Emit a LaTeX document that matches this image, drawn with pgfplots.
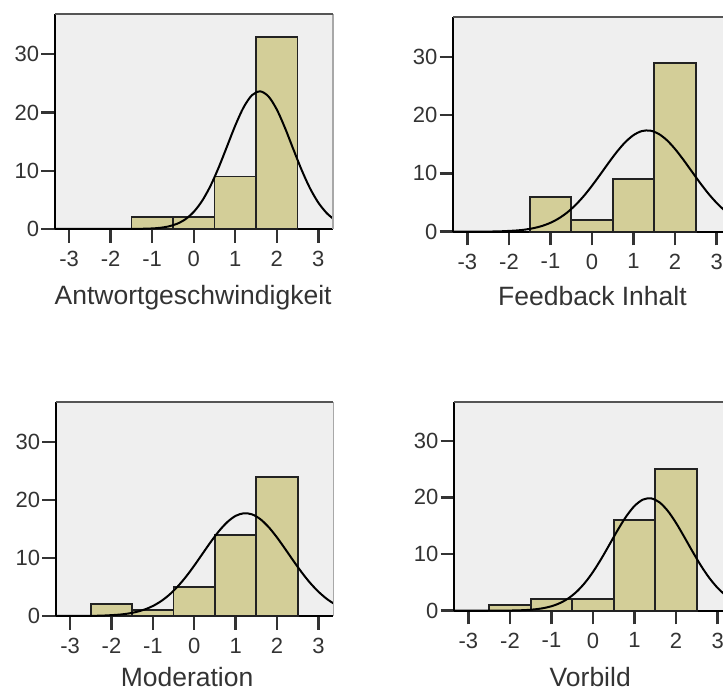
\documentclass[border=0pt]{standalone}
\usepackage{fontspec}
\setmainfont{Liberation Sans}
\usepackage{pgfplots}
\pgfplotsset{compat=1.18}
\definecolor{barcol}{HTML}{D3CE98}
\definecolor{bgcol}{HTML}{EFEFEF}
\definecolor{barline}{HTML}{222222}
\definecolor{txtcol}{HTML}{333333}
\definecolor{tickcol}{HTML}{333333}
\definecolor{topcol}{HTML}{555555}
\definecolor{rightcol}{HTML}{A8A8A8}
\pgfplotsset{
  spss/.style={
    scale only axis, width=139.15pt, height=107.5pt,
    xmin=-3.34, xmax=3.36, ymin=0, ymax=36.9,
    xtick={-3,...,3}, ytick={0,10,20,30},
    axis x line*=bottom, axis y line*=left,
    axis line style={black, line width=1pt},
    tick align=outside, major tick length=6.8pt,
    every tick/.style={draw=tickcol, line width=1.2pt},
    axis background/.style={fill=bgcol},
    ticklabel style={font=\fontsize{11}{13}\selectfont, text=txtcol},
    yticklabel style={inner sep=1pt},
    xticklabel style={inner sep=1pt, yshift=-3pt},
    /pgf/number format/assume math mode=true,
    xlabel style={font=\fontsize{13.25}{15}\selectfont, text=txtcol,
      at={(rel axis cs:0.5,0)}, anchor=base},
    anchor=south west,
    clip=false,
  },
  bars/.style={ybar, bar width=1, bar shift=0pt, fill=barcol, draw=barline, line width=0.9pt},
  curve/.style={black, line width=1pt, smooth, tension=0.5, mark=none},
}
\newcommand{\borders}{%
  \draw[rightcol, line width=0.8pt] (rel axis cs:1,0) -- (rel axis cs:1,1);
  \draw[topcol, line width=1.1pt] (rel axis cs:0,1) -- (rel axis cs:1,1);
}
\begin{document}
\begin{tikzpicture}
\useasboundingbox (0,0) rectangle (361.5pt,345pt);
\clip (0,0) rectangle (361.5pt,345pt);

% Panel 1
\begin{axis}[spss, at={(27.5pt,230.5pt)},
  xlabel={Antwortgeschwindigkeit}, xlabel style={xshift=-0.5pt, yshift=-38pt}]
\addplot[bars] coordinates {(-1,2) (0,2) (1,9) (2,33)};
\addplot[curve] coordinates {
(-3.34,0) (-2,0.001) (-1.4,0.015) (-1.0,0.093) (-0.8,0.211) (-0.6,0.449) (-0.4,0.898)
(-0.2,1.677) (0,2.934) (0.2,4.80) (0.4,7.35) (0.6,10.54) (0.8,14.14) (1.0,17.76)
(1.2,20.87) (1.4,22.95) (1.6,23.62) (1.8,22.75) (2.0,20.51) (2.2,17.30) (2.4,13.66)
(2.6,10.10) (2.8,6.98) (3.0,4.52) (3.2,2.74) (3.36,1.76)};
\borders
\end{axis}

% Panel 2
\begin{axis}[spss, at={(226.65pt,229.15pt)},
  xlabel={Feedback Inhalt}, xlabel style={yshift=-37.15pt}]
\addplot[bars] coordinates {(-1,6) (0,2) (1,9) (2,29)};
\addplot[curve] coordinates {
(-3.34,0.001) (-2.6,0.017) (-2.2,0.065) (-1.8,0.216) (-1.6,0.372) (-1.4,0.618)
(-1.2,0.990) (-1.0,1.531) (-0.8,2.283) (-0.6,3.285) (-0.4,4.561) (-0.2,6.109)
(0,7.894) (0.2,9.838) (0.4,11.83) (0.6,13.72) (0.8,15.36) (1.0,16.58) (1.2,17.27)
(1.4,17.35) (1.6,16.81) (1.8,15.72) (2.0,14.18) (2.2,12.34) (2.4,10.36) (2.6,8.39)
(2.8,6.55) (3.0,4.94) (3.2,3.59) (3.36,2.71)};
\borders
\end{axis}

% Panel 3
\begin{axis}[spss, at={(28pt,37pt)}, width=138.65pt, height=107.15pt,
  xlabel={Moderation}, xlabel style={xshift=-3.8pt, yshift=-35.3pt}]
\addplot[bars] coordinates {(-2,2) (-1,1) (0,5) (1,14) (2,24)};
\addplot[curve] coordinates {
(-3.34,0.001) (-2.6,0.019) (-2.2,0.072) (-1.8,0.242) (-1.6,0.417) (-1.4,0.695)
(-1.2,1.114) (-1.0,1.721) (-0.8,2.561) (-0.6,3.673) (-0.4,5.076) (-0.2,6.758)
(0,8.670) (0.2,10.72) (0.4,12.76) (0.6,14.64) (0.8,16.18) (1.0,17.24) (1.2,17.69)
(1.4,17.49) (1.6,16.66) (1.8,15.29) (2.0,13.52) (2.2,11.52) (2.4,9.46) (2.6,7.48)
(2.8,5.70) (3.0,4.19) (3.2,2.96) (3.36,2.19)};
\borders
\end{axis}

% Panel 4
\begin{axis}[spss, at={(227.15pt,39.65pt)}, height=104.5pt,
  xlabel={Vorbild}, xlabel style={xshift=-1.6pt, yshift=-38.1pt}]
\addplot[bars] coordinates {(-2,1) (-1,2) (0,2) (1,16) (2,25)};
\addplot[curve] coordinates {
(-3.34,0) (-2.2,0.0125) (-1.8,0.060) (-1.6,0.122) (-1.4,0.239) (-1.2,0.443)
(-1.0,0.787) (-0.8,1.333) (-0.6,2.152) (-0.4,3.317) (-0.2,4.882) (0,6.852)
(0.2,9.18) (0.4,11.73) (0.6,14.31) (0.8,16.66) (1.0,18.50) (1.2,19.61) (1.4,19.83)
(1.6,19.13) (1.8,17.62) (2.0,15.48) (2.2,12.98) (2.4,10.39) (2.6,7.93) (2.8,5.78)
(3.0,4.02) (3.2,2.67) (3.36,1.85)};
\borders
\end{axis}
\end{tikzpicture}
\end{document}
